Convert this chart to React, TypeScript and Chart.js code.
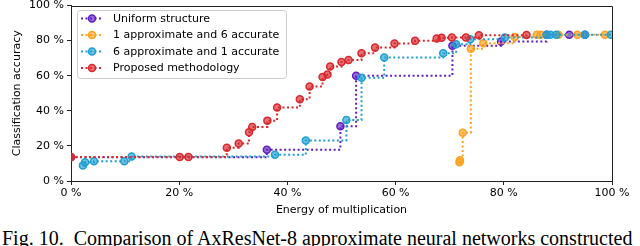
import React, { useEffect, useRef } from 'react';
import { Chart, registerables } from 'chart.js';

Chart.register(...registerables);

const axisTicks = [0, 20, 40, 60, 80, 100];

const seriesLabels = [
  'Uniform structure',
  '1 approximate and 6 accurate',
  '6 approximate and 1 accurate',
  'Proposed methodology',
];
const seriesColors = ['#5f1fc2', '#ffa01e', '#1f9fd2', '#d9272b'];

const uniformX = [0, 36.2, 49.8, 52.7, 70.5, 79.5, 87.9, 92.1, 95.0];
const uniformY = [13.6, 17.8, 31.2, 60.0, 77.0, 79.5, 83.4, 83.4, 83.4];

const oneApproxX = [71.8, 71.9, 72.4, 73.9, 76.2, 82.0, 86.1, 86.8, 90.1, 93.6, 98.7];
const oneApproxY = [10.7, 11.8, 27.5, 75.3, 78.5, 82.0, 83.4, 83.4, 83.4, 83.4, 83.4];

const sixApproxX = [2.2, 2.6, 4.25, 9.85, 11.2, 37.7, 43.4, 50.9, 53.7, 57.9, 68.8, 71.2, 73.8, 80.2, 87.9, 88.6, 89.7, 95.0, 99.8];
const sixApproxY = [8.8, 10.7, 11.2, 11.2, 14.0, 14.9, 23.1, 34.8, 58.8, 70.4, 72.8, 77.9, 80.8, 81.8, 83.4, 83.4, 83.4, 83.4, 83.4];

const proposedX = [0, 20.1, 21.7, 28.8, 31.0, 32.9, 33.5, 36.3, 38.1, 42.3, 44.1, 46.5, 47.4, 47.9, 50.0, 51.3, 53.7, 56.2, 59.8, 63.6, 67.6, 68.5, 70.4, 73.0, 75.4, 84.2];
const proposedY = [13.7, 13.7, 13.7, 19.0, 21.3, 27.8, 30.8, 34.4, 41.9, 46.6, 53.9, 59.2, 60.7, 65.3, 67.8, 69.0, 72.8, 76.0, 78.4, 79.9, 81.2, 81.6, 81.8, 81.8, 83.0, 83.2];

const seriesX = [uniformX, oneApproxX, sixApproxX, proposedX];
const seriesY = [uniformY, oneApproxY, sixApproxY, proposedY];

function hexToRgba(hex: string, a: number) {
  const n = parseInt(hex.slice(1), 16);
  return `rgba(${(n >> 16) & 255},${(n >> 8) & 255},${n & 255},${a})`;
}

const framePlugin = {
  id: 'frameAndLegend',
  afterDatasetsDraw(chart: any) {
    const ctx = chart.ctx as CanvasRenderingContext2D;
    const { left, right, top, bottom } = chart.chartArea;
    ctx.save();
    ctx.strokeStyle = '#222';
    ctx.lineWidth = 1;
    ctx.setLineDash([]);
    const t = Math.round(top) + 0.5;
    const r = Math.round(right) + 0.5;
    ctx.beginPath();
    ctx.moveTo(Math.round(left), t);
    ctx.lineTo(r, t);
    ctx.lineTo(r, Math.round(bottom) + 1);
    ctx.stroke();

    const bx = 77.5, by = 10.5, bw = 209, bh = 68;
    ctx.beginPath();
    (ctx as any).roundRect(bx, by, bw, bh, 3);
    ctx.fillStyle = 'rgba(255,255,255,0.8)';
    ctx.fill();
    ctx.strokeStyle = '#cccccc';
    ctx.lineWidth = 1;
    ctx.stroke();

    seriesLabels.forEach((label, i) => {
      const y = 18.5 + i * 16.5;
      const c = seriesColors[i];
      ctx.strokeStyle = c;
      ctx.lineWidth = 2;
      ctx.setLineDash([2, 2.5]);
      ctx.beginPath();
      ctx.moveTo(81, y);
      ctx.lineTo(103, y);
      ctx.stroke();
      ctx.setLineDash([]);
      ctx.beginPath();
      ctx.arc(92, y, 3.5, 0, Math.PI * 2);
      ctx.fillStyle = hexToRgba(c, 0.65);
      ctx.fill();
      ctx.lineWidth = 1.5;
      ctx.strokeStyle = c;
      ctx.stroke();
      ctx.fillStyle = '#000';
      ctx.font = '11px "DejaVu Sans"';
      ctx.textBaseline = 'middle';
      ctx.textAlign = 'left';
      ctx.fillText(label, 113, y + 0.5);
    });
    ctx.restore();
  },
};

export default function App() {
  const ref = useRef<HTMLCanvasElement>(null);

  useEffect(() => {
    if (!ref.current) return;
    const datasets = seriesLabels.map((label, i) => ({
      label,
      data: seriesX[i].map((x, j) => ({ x, y: seriesY[i][j] })),
      borderColor: seriesColors[i],
      backgroundColor: hexToRgba(seriesColors[i], 0.65),
      pointBorderColor: seriesColors[i],
      pointBackgroundColor: hexToRgba(seriesColors[i], 0.65),
      borderWidth: 2,
      borderDash: [2, 2.5],
      stepped: 'before' as const,
      pointRadius: 3.5,
      pointBorderWidth: 1.5,
      pointStyle: 'circle' as const,
      fill: false,
      clip: 0,
      order: 3 - i,
    }));

    const chart = new Chart(ref.current, {
      type: 'line',
      data: { datasets },
      options: {
        animation: false,
        responsive: false,
        devicePixelRatio: 1,
        layout: { padding: { top: 4, left: 0, right: 28, bottom: 0 } },
        plugins: { legend: { display: false }, tooltip: { enabled: false } },
        scales: {
          x: {
            type: 'linear',
            min: 0,
            max: 100,
            afterBuildTicks: (s: any) => {
              s.ticks = axisTicks.map((v) => ({ value: v }));
            },
            afterFit: (s: any) => {
              s.height = 43;
              s.paddingLeft = 0;
              s.paddingRight = 0;
            },
            ticks: {
              color: '#000',
              font: { family: 'DejaVu Sans', size: 11 },
              padding: 2,
              maxRotation: 0,
              callback: (v: any) => `${v} %`,
            },
            grid: { display: true, drawOnChartArea: false, drawTicks: true, tickLength: 4, color: '#222' },
            border: { display: true, color: '#222', width: 1 },
            title: {
              display: true,
              text: 'Energy of multiplication',
              color: '#000',
              font: { family: 'DejaVu Sans', size: 11 },
              padding: { top: 0, bottom: 7 },
            },
          },
          y: {
            type: 'linear',
            min: 0,
            max: 100,
            afterBuildTicks: (s: any) => {
              s.ticks = axisTicks.map((v) => ({ value: v }));
            },
            afterFit: (s: any) => {
              s.width = 71;
              s.paddingTop = 0;
              s.paddingBottom = 0;
            },
            ticks: {
              color: '#000',
              font: { family: 'DejaVu Sans', size: 11 },
              padding: 3,
              callback: (v: any) => `${v} %`,
            },
            grid: { display: true, drawOnChartArea: false, drawTicks: true, tickLength: 4, color: '#222' },
            border: { display: true, color: '#222', width: 1 },
            title: {
              display: true,
              text: 'Classification accuracy',
              color: '#000',
              font: { family: 'DejaVu Sans', size: 11 },
              padding: { top: 11, bottom: 0 },
            },
          },
        },
      },
      plugins: [framePlugin],
    } as any);
    return () => chart.destroy();
  }, []);

  return (
    <div style={{ position: 'fixed', left: 0, top: 0, width: 640, height: 246, background: '#fff', overflow: 'hidden' }}>
      <canvas ref={ref} width={640} height={224} style={{ display: 'block', width: 640, height: 224 }} />
      <div
        style={{
          position: 'absolute',
          left: 2,
          top: 227,
          fontFamily: '"Liberation Serif", "Times New Roman", serif',
          fontSize: 20,
          lineHeight: '23px',
          whiteSpace: 'nowrap',
          color: '#000',
        }}
      >
        Fig. 10.&nbsp; Comparison of AxResNet-8 approximate neural networks constructed
      </div>
    </div>
  );
}
